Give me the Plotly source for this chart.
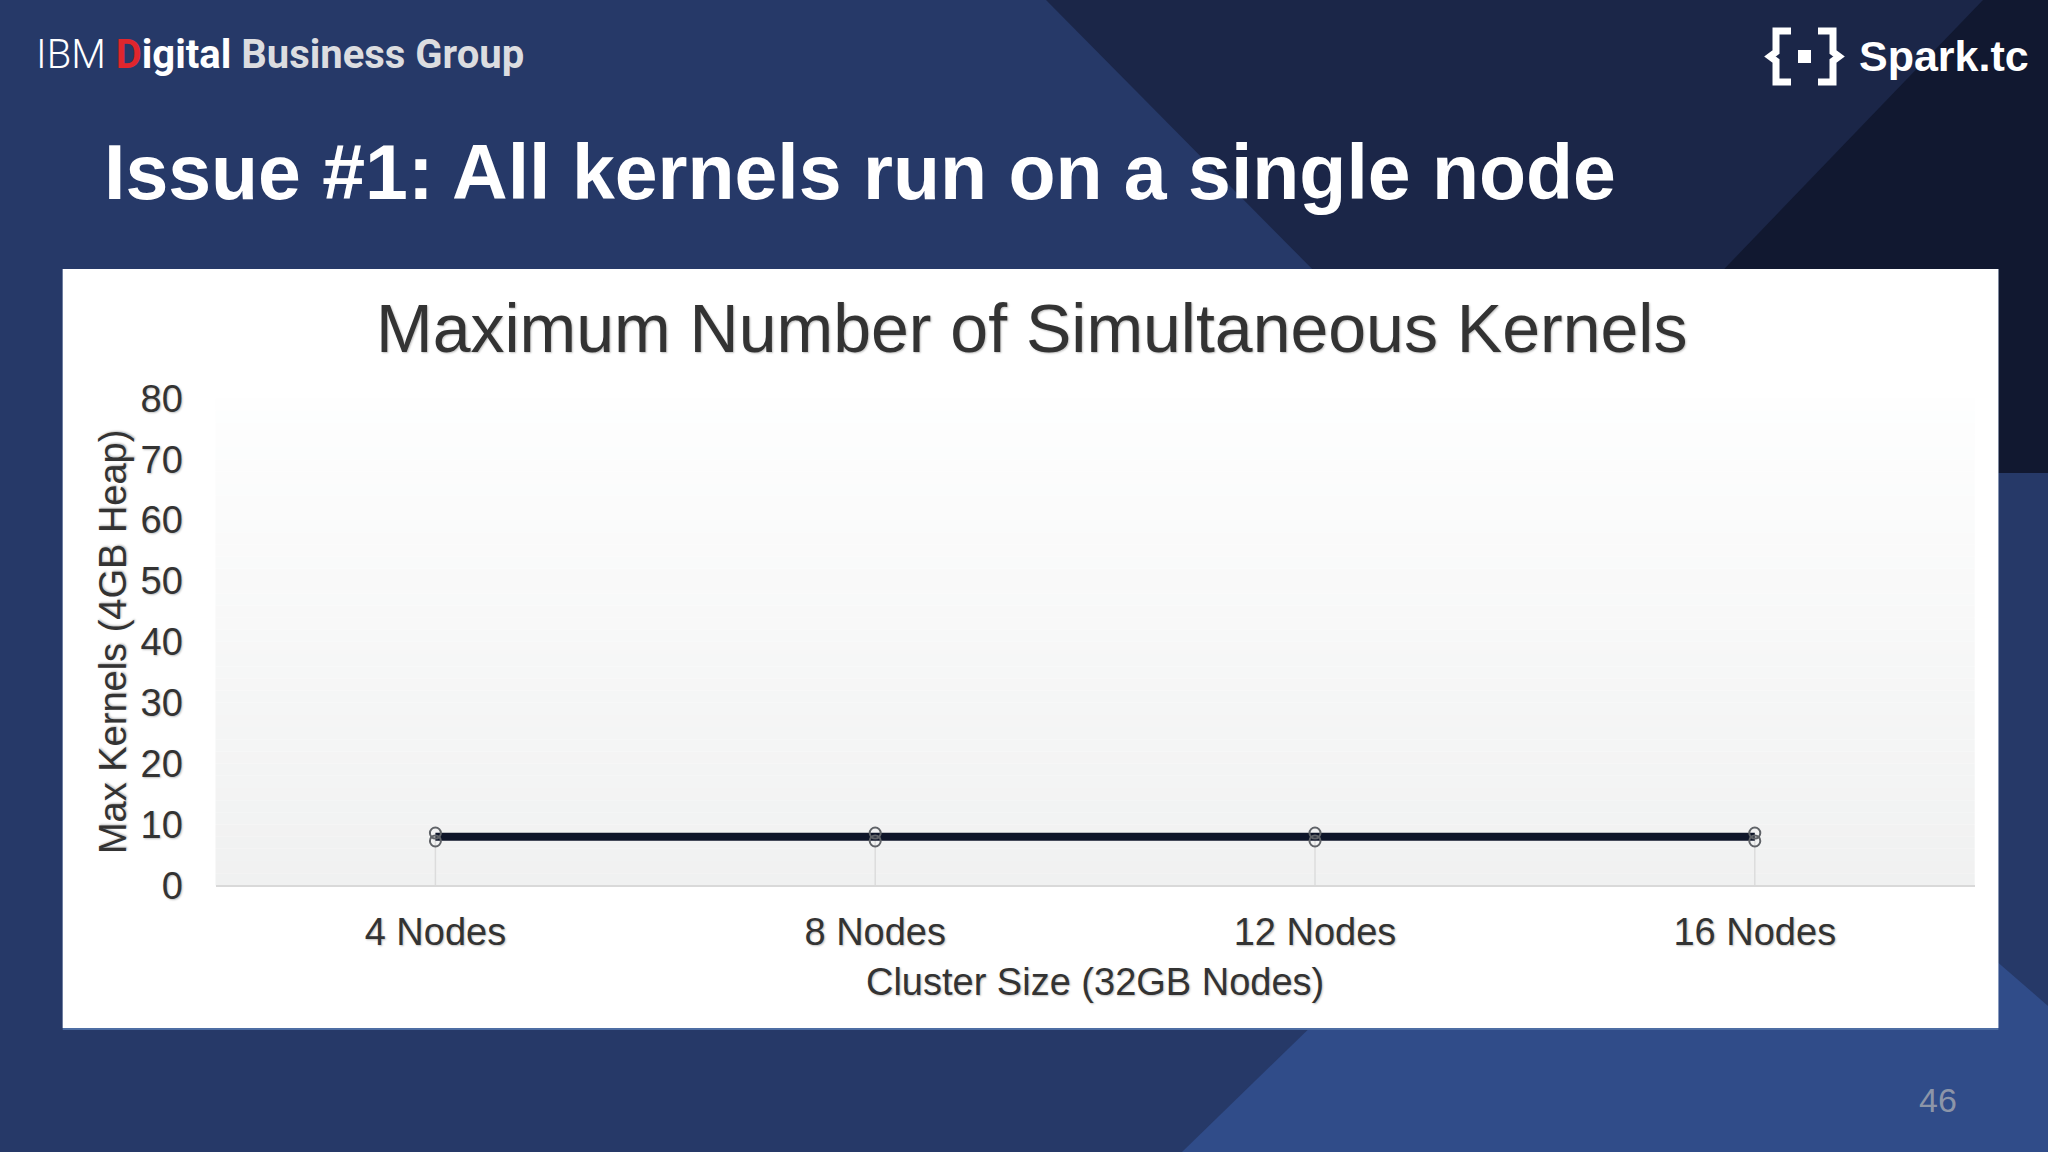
import plotly.graph_objects as go

# ---------------- data ----------------
categories = ["4 Nodes", "8 Nodes", "12 Nodes", "16 Nodes"]
max_kernels = [8, 8, 8, 8]
marker_upper = [8.6, 8.6, 8.6, 8.6]
marker_lower = [7.3, 7.3, 7.3, 7.3]
y_ticks = [0, 10, 20, 30, 40, 50, 60, 70, 80]

W, H = 2048, 1152
FONT = "Liberation Sans, Arial, sans-serif"


def px(x):
    return x / W


def py(y):
    return 1 - y / H


def poly(points, color):
    d = "M " + " L ".join(f"{px(x):.5f},{py(y):.5f}" for x, y in points) + " Z"
    return dict(type="path", xref="paper", yref="paper", path=d,
                fillcolor=color, line=dict(width=0), layer="below")


def path_line(points, color, width):
    d = "M " + " L ".join(f"{px(x):.5f},{py(y):.5f}" for x, y in points)
    return dict(type="path", xref="paper", yref="paper", path=d,
                line=dict(color=color, width=width), layer="above")


shapes = []
# slide background shapes
shapes.append(poly([(1046, 0), (2048, 0), (2048, 473), (1514, 473)], "#1b2648"))
shapes.append(poly([(1983, 0), (2048, 0), (2048, 473), (1528, 473)], "#111830"))
shapes.append(poly([(1182, 1152), (2048, 1152), (2048, 1006), (1670, 678)], "#304c89"))
# white chart panel
shapes.append(dict(type="rect", xref="paper", yref="paper",
                   x0=px(62.7), x1=px(1998.4), y0=py(1030), y1=py(269),
                   fillcolor="#4d6da3", line=dict(width=0), layer="below"))
shapes.append(dict(type="rect", xref="paper", yref="paper",
                   x0=px(62.7), x1=px(1998.4), y0=py(1028), y1=py(269),
                   fillcolor="#ffffff", line=dict(width=0), layer="below"))

# plot-area gradient (white at top to light grey at bottom)
n = 40
top = (254, 254, 254)
bot = (240, 241, 241)
for i in range(n):
    t = (i + 0.5) / n
    c = tuple(round(top[k] + (bot[k] - top[k]) * t) for k in range(3))
    shapes.append(dict(type="rect", xref="x domain", yref="y domain",
                       x0=0, x1=1, y0=1 - (i + 1) / n, y1=1 - i / n,
                       fillcolor=f"rgb{c}", line=dict(width=0), layer="below"))

# Spark.tc logo brackets
shapes.append(path_line([(1791, 31), (1776, 31), (1776, 52), (1770, 56.5),
                         (1776, 61), (1776, 82), (1791, 82)], "#ffffff", 7))
shapes.append(path_line([(1818, 31), (1833, 31), (1833, 52), (1839, 56.5),
                         (1833, 61), (1833, 82), (1818, 82)], "#ffffff", 7))
shapes.append(dict(type="rect", xref="paper", yref="paper",
                   x0=px(1798), x1=px(1811), y0=py(63), y1=py(50),
                   fillcolor="#ffffff", line=dict(width=0), layer="above"))

fig = go.Figure()

# drop lines from points to the axis
fig.add_trace(go.Scatter(
    x=categories, y=max_kernels, mode="markers",
    marker=dict(size=1, color="rgba(0,0,0,0)"),
    error_y=dict(type="data", symmetric=False, array=[0, 0, 0, 0],
                 arrayminus=max_kernels, color="#dcdcdc", thickness=1.5, width=0),
    hoverinfo="skip", showlegend=False))

fig.add_trace(go.Scatter(
    x=categories, y=max_kernels, mode="lines",
    line=dict(color="#0e1529", width=8),
    name="Max Kernels", showlegend=False))

for vals in (marker_upper, marker_lower):
    fig.add_trace(go.Scatter(
        x=categories, y=vals, mode="markers",
        marker=dict(symbol="circle-open", size=11, color="#606368",
                    line=dict(width=2, color="#606368")),
        showlegend=False, hoverinfo="skip"))

shadow = "1px 1px 2px rgba(0,0,0,0.25)"
tick_font = dict(family=FONT, size=38, color="#333333", shadow=shadow)

fig.update_layout(
    template="none",
    width=W, height=H,
    margin=dict(l=0, r=0, t=0, b=0, autoexpand=False),
    paper_bgcolor="#263968",
    plot_bgcolor="rgba(0,0,0,0)",
    shapes=shapes,
    showlegend=False,
    xaxis=dict(
        domain=[px(215.5), px(1974.7)],
        type="category", range=[-0.5, 3.5],
        automargin=False,
        showgrid=False, zeroline=False,
        showline=True, linecolor="#d9d9d9", linewidth=2,
        ticks="outside", ticklen=12, tickcolor="rgba(0,0,0,0)",
        tickfont=tick_font,
        title=dict(text="Cluster Size (32GB Nodes)", font=tick_font, standoff=16),
    ),
    yaxis=dict(
        domain=[py(885.4), py(398.3)],
        range=[0, 80], tickvals=y_ticks,
        automargin=False,
        showgrid=False, zeroline=False, showline=False,
        ticks="outside", ticklen=24, tickcolor="rgba(0,0,0,0)",
        tickfont=tick_font,
        title=dict(text="Max Kernels (4GB Heap)", font=tick_font, standoff=2),
    ),
    annotations=[
        dict(text="<span style='font-weight:300'>IBM</span> "
                  "<b><span style='color:#e0262d'>D</span>igital</b> "
                  "<b><span style='color:#dcdde0'>Business Group</span></b>",
             xref="paper", yref="paper", x=px(34), y=py(54),
             xanchor="left", yanchor="middle", showarrow=False,
             font=dict(family="Roboto, " + FONT, size=40, color="#ffffff")),
        dict(text="<b>Spark.tc</b>", xref="paper", yref="paper",
             x=px(1857), y=py(56), xanchor="left", yanchor="middle",
             showarrow=False, font=dict(family=FONT, size=43, color="#ffffff")),
        dict(text="<b>Issue #1: All kernels run on a single node</b>",
             xref="paper", yref="paper", x=px(102), y=py(172),
             xanchor="left", yanchor="middle", showarrow=False,
             font=dict(family=FONT, size=77, color="#ffffff")),
        dict(text="Maximum Number of Simultaneous Kernels",
             xref="paper", yref="paper", x=px(1031), y=py(328),
             xanchor="center", yanchor="middle", showarrow=False,
             font=dict(family=FONT, size=68, color="#333333", shadow=shadow)),
        dict(text="46", xref="paper", yref="paper", x=px(1938), y=py(1100),
             xanchor="center", yanchor="middle", showarrow=False,
             font=dict(family=FONT, size=34, color="#8c95a8")),
    ],
)

fig.write_html(
    "out.html",
    config={"displayModeBar": False},
    post_script="document.body.style.margin='0';"
                "document.body.style.overflow='hidden';"
                "document.body.style.background='#263968';",
)
